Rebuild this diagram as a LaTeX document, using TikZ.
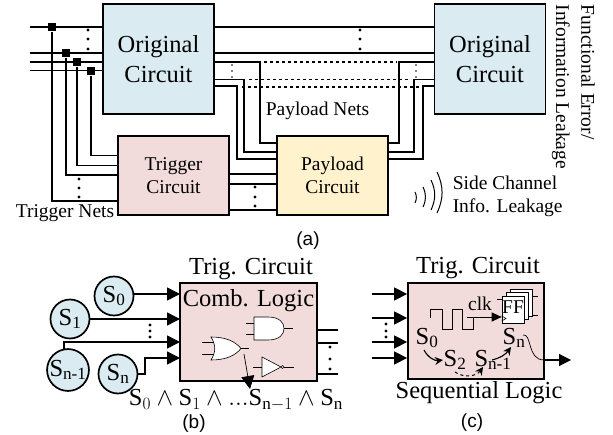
\documentclass[tikz,border=0pt]{standalone}
\usepackage{fontspec}
\setmainfont{Liberation Serif}
\setsansfont{Liberation Sans}
\usetikzlibrary{arrows.meta}
\definecolor{circuitblue}{HTML}{DAEBF2}
\definecolor{triggerpink}{HTML}{F2DCDB}
\definecolor{payloadyellow}{HTML}{FFF2CC}

\newcommand{\bigfont}{\fontsize{24.5}{30}\selectfont}
\newcommand{\midfont}{\fontsize{19.5}{23.5}\selectfont}

\begin{document}
\begin{tikzpicture}[x=1pt, y=-1pt, line width=1.5pt]

\tikzstyle{every node}=[inner sep=0pt, align=center]
\tikzstyle{block}=[draw, line width=1.8pt, text=black]
\tikzstyle{junction}=[fill=black, minimum size=8pt]
\tikzstyle{state}=[circle, draw, line width=1.7pt, fill=circuitblue, minimum size=39pt, font=\bigfont]
\tikzstyle{thinline}=[line width=0.6pt]
\tikzstyle{bigarrow}=[-{Triangle[length=13pt,width=13pt]}]
\tikzstyle{smallarrow}=[-{Stealth[length=8pt,width=8pt]}]

\useasboundingbox (0,0) rectangle (613,435);

% (a)
\node [block, fill=circuitblue, minimum width=111pt, minimum height=110pt, font=\bigfont] (orig1) at (158.5,59) {Original\\Circuit};
\node [block, fill=circuitblue, minimum width=111pt, minimum height=110pt, font=\bigfont] (orig2) at (490,59) {Original\\Circuit};
\node [block, fill=triggerpink, minimum width=111pt, minimum height=79pt, font=\midfont] (trig) at (173.5,175.5) {Trigger\\Circuit};
\node [block, fill=payloadyellow, minimum width=111pt, minimum height=79pt, font=\midfont] (pay) at (332.5,175.5) {Payload\\Circuit};

\coordinate (in1) at (30,27);
\coordinate (in2) at (30,53);
\coordinate (in3) at (30,62);
\coordinate (in4) at (30,70.5);
\coordinate (tr1) at (118,155.5);
\coordinate (tr2) at (118,165.5);
\coordinate (tr3) at (118,175);
\coordinate (tr4) at (118,201);
\coordinate (pl1) at (277,143);
\coordinate (pl2) at (277,152);
\coordinate (pl3) at (277,159);
\coordinate (pl4) at (277,174);
\coordinate (pl5) at (277,184);
\coordinate (pl6) at (277,210);
\coordinate (ou3) at (214,62);
\coordinate (ou4) at (214,79.5);
\coordinate (ou5) at (214,86);

\node [junction] (j1) at (52,27) {};
\node [junction] (j2) at (66,53) {};
\node [junction] (j3) at (77,62) {};
\node [junction] (j4) at (91,71) {};

\draw (in1) -- (orig1.west |- in1);
\draw (in2) -- (orig1.west |- in2);
\draw (in3) -- (orig1.west |- in3);
\draw (in4) -- (orig1.west |- in4);
\draw (j1) |- (tr4);
\draw (j2) |- (tr3);
\draw (j3) |- (tr2);
\draw (j4) |- (tr1);

\draw (orig1.east |- in1) -- (orig2.west |- in1);
\draw (orig1.east |- in2) -- (orig2.west |- in2);
\draw (ou3) -| (260,143) -- (pl1);
\draw (ou4) -| (244,152) -- (pl2);
\draw (ou5) -| (237,159) -- (pl3);
\draw (orig2.west |- ou3) -| (399,143) -- (pay.east |- pl1);
\draw (orig2.west |- ou4) -| (414,152) -- (pay.east |- pl2);
\draw (orig2.west |- ou5) -| (423,159) -- (pay.east |- pl3);
\draw [dashed, line width=1.1pt] (264,62) -- (397,62);
\draw [dashed, line width=1.1pt] (249,79.5) -- (411,79.5);
\draw [dashed, line width=1.1pt] (242,87) -- (420,87);
\draw (trig.east |- pl4) -- (pl4);
\draw (trig.east |- pl5) -- (pl5);
\draw (trig.east |- pl6) -- (pl6);

\foreach \y in {30,39,49} {
  \fill (88,\y) circle (1.7pt);
  \fill (360,\y) circle (1.7pt);
}
\foreach \y in {179,188,197} \fill (79,\y) circle (1.7pt);
\foreach \y in {187,197,206} \fill (255,\y) circle (1.7pt);
\foreach \y in {65,71,77} {
  \fill (232,\y) circle (0.9pt);
  \fill (416,\y) circle (0.9pt);
}

\node [font=\midfont] (paynets) at (317.5,111) {Payload Nets};
\node [font=\midfont] (trignets) at (65,213) {Trigger Nets};
\node [font=\midfont, rotate=-90, anchor=west] (error) at (588,4) {Functional Error/};
\node [font=\midfont, rotate=-90, anchor=west] (leak) at (561,4) {Information Leakage};
\node [font=\midfont, align=left, anchor=west] (side) at (452,196.5) {Side Channel\\Info. Leakage};

\draw [line width=1pt] (415,192) to[bend left=25] (415,203);
\draw [line width=1pt] (423,187) to[bend left=25] (423,207);
\draw [line width=1pt] (431,180) to[bend left=25] (431,210);
\draw [line width=1pt] (437,172) to[bend left=25] (437,213);

\node [font=\sffamily\fontsize{19}{23}\selectfont] (cap1) at (308,241) {(a)};

% (b)
\node [block, fill=triggerpink, minimum width=137pt, minimum height=98pt] (comb) at (248.5,332) {};
\node [font=\bigfont] (combtitle) at (251,269) {Trig. Circuit};
\node [font=\bigfont] (combtext) at (248.5,301) {Comb. Logic};

\node [state] (s0) at (114,296) {S\textsubscript{0}};
\node [state] (s1) at (70,319) {S\textsubscript{1}};
\node [state] (sm) at (68,370) {S\textsubscript{n-1}};
\node [state] (sn) at (118,374) {S\textsubscript{n}};

\coordinate (b1) at (180,294);
\coordinate (b2) at (180,319);
\coordinate (b3) at (180,342);
\coordinate (b4) at (180,358);
\draw [bigarrow] (s0.east |- b1) -- (b1);
\draw [bigarrow] (s1.east |- b2) -- (b2);
\draw [bigarrow] (sm.100) |- (b3);
\draw [bigarrow] (sn.east) -- (145,374) |- (b4);

\foreach \y in {325,331,337} \fill (150,\y) circle (1.7pt);
\foreach \y in {347,359,369} \fill (330,\y) circle (1.7pt);
\draw (comb.east |- 0,330) -- (338,330);
\draw (comb.east |- 0,343) -- (338,343);
\draw (comb.east |- 0,374) -- (338,374);

% gates
\draw [thinline, fill=white] (254,317) -- (268,317) .. controls (280,317) and (284,323) .. (284,328.5) .. controls (284,334) and (280,340) .. (268,340) -- (254,340) -- cycle;
\draw [thinline] (246,323) -- (254,323) (246,334) -- (254,334) (284,328.5) -- (293,328.5);
\draw [thinline, fill=white] (211,337) .. controls (225,337) and (235,341) .. (241,348.5) .. controls (235,356) and (225,360) .. (211,360) .. controls (216,352) and (216,345) .. (211,337) -- cycle;
\draw [thinline] (202,342) -- (214,342) (202,354) -- (214,354) (241,348.5) -- (249,348.5);
\draw [thinline, fill=white] (262,357) -- (281,367) -- (262,377) -- cycle;
\draw [thinline, fill=white] (282.5,367) circle (1.5pt);
\draw [thinline] (253,367) -- (262,367) (284,367) -- (294,367);
\draw [line width=0.7pt, -{Triangle[length=13pt,width=13pt]}] (244,354) -- (250,389);

\node [font=\bigfont] (expr) at (236,400) {\(\mathrm{S}_0\wedge\mathrm{S}_1\wedge\mathrm{...S}_{\mathrm{n}-1}\wedge\mathrm{S}_{\mathrm{n}}\)};
\node [font=\sffamily\fontsize{19}{23}\selectfont] (cap2) at (194,424) {(b)};

% (c)
\node [block, fill=triggerpink, minimum width=136pt, minimum height=96pt] (seq) at (476,331) {};
\node [font=\bigfont] (seqtitle) at (478,268) {Trig. Circuit};
\node [font=\bigfont] (seqtext) at (479,393) {Sequential Logic};

\coordinate (c1) at (372,294);
\coordinate (c2) at (372,318);
\coordinate (c3) at (372,342);
\coordinate (c4) at (372,358);
\draw [bigarrow] (c1) -- (seq.west |- c1);
\draw [bigarrow] (c2) -- (seq.west |- c2);
\draw [bigarrow] (c3) -- (seq.west |- c3);
\draw [bigarrow] (c4) -- (seq.west |- c4);
\foreach \y in {324,331,337} \fill (386,\y) circle (1.7pt);

\draw [line width=0.9pt] (430,318) -- (430,309) -- (442,309) -- (442,329) -- (452,329) -- (452,309) -- (462,309) -- (462,329) -- (473,329) -- (473,317);
\node [font=\midfont] (clk) at (480,304) {clk};

\foreach \d/\e in {8/back, 4/mid, 0/front}
  \node [draw, thinline, fill=white, minimum width=22pt, minimum height=27pt] (ff\e) at (513+\d,309.5-\d*0.85) {};
\node [font=\midfont] (fftext) at (513,307) {FF};
\draw [thinline] (fffront.west |- 0,316) -- (506,318.5) -- (fffront.west |- 0,321);
\draw [thinline] (497,299) -- (fffront.west |- 0,299);
\draw [thinline] (ffback.east |- 0,296) -- (538,296);
\draw [thinline] (ffback.east |- 0,315) -- (538,315);
\draw [-{Triangle[length=10pt,width=9pt]}, line width=0.9pt] (467,317) -- (fffront.west |- 0,317);

\node [font=\bigfont] (q0) at (427,338) {S\textsubscript{0}};
\node [font=\bigfont] (q2) at (455,360) {S\textsubscript{2}};
\node [font=\bigfont] (qm) at (493,360) {S\textsubscript{n-1}};
\node [font=\bigfont] (qn) at (514,338) {S\textsubscript{n}};
\coordinate (cout) at (571,360);

\draw [smallarrow, line width=1.1pt] (424,350) to[bend right=35] (q2.west);
\draw [smallarrow, dashed, line width=1pt] (455,372) to[bend right=45] (483,367);
\draw [smallarrow, line width=1.1pt] (492,360) to[bend right=20] (511,347);
\draw [line width=0.7pt] (523,335) .. controls (532,333) and (527,360) .. (544,360);
\draw [line width=1.2pt, -{Triangle[length=12pt,width=12pt]}] (544,360) -- (cout);

\node [font=\sffamily\fontsize{19}{23}\selectfont] (cap3) at (472,423) {(c)};

\end{tikzpicture}
\end{document}
